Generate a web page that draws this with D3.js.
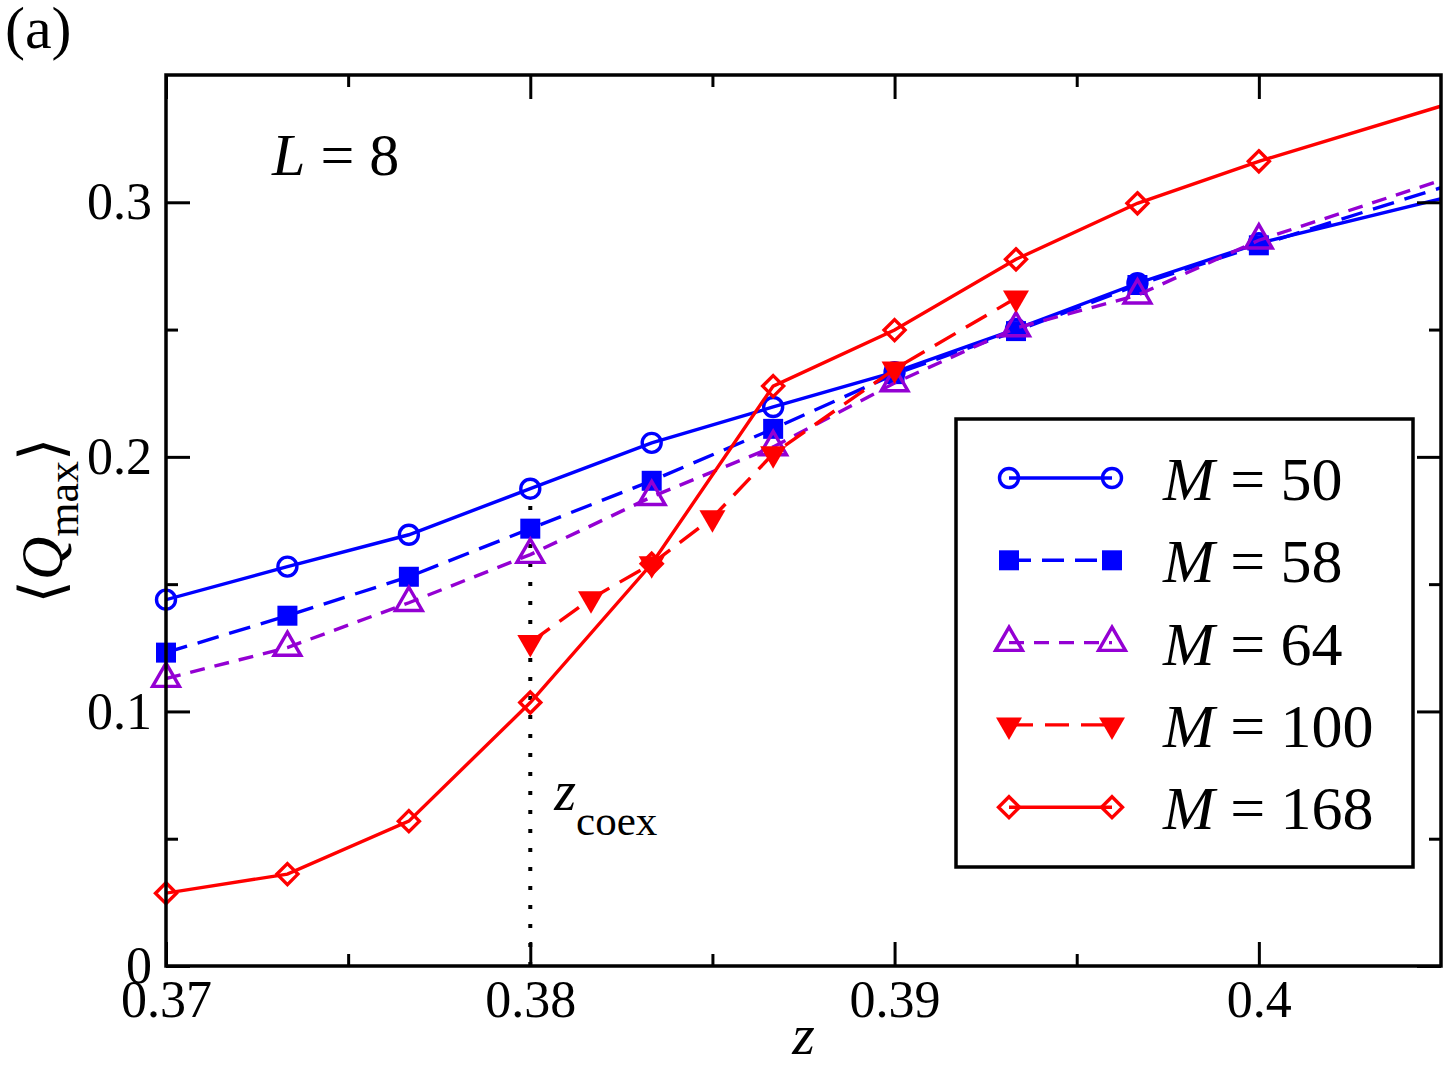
<!DOCTYPE html>
<html>
<head>
<meta charset="utf-8">
<script src="https://cdn.jsdelivr.net/npm/d3@7/dist/d3.min.js"></script>
<style>
  body { margin: 0; background: #fff; }
  svg text { font-family: "Liberation Serif", "Times New Roman", serif; fill: #000; }
</style>
</head>
<body>
<div id="chart"></div>
<script>
"use strict";

// ---- data ----
const zGrid = [0.37, 0.373333, 0.376667, 0.38, 0.383333, 0.386667, 0.39, 0.393333, 0.396667, 0.40, 0.406667];
const q50  = [0.1439, 0.1569, 0.1694, 0.1875, 0.2055, 0.2196, 0.2333, 0.2502, 0.2682, 0.2839, 0.3072];
const q58  = [0.1231, 0.1376, 0.1529, 0.1718, 0.1906, 0.2110, 0.2325, 0.2494, 0.2675, 0.2831, 0.3133];
const q64  = [0.1129, 0.1251, 0.1427, 0.1616, 0.1843, 0.2039, 0.2290, 0.2506, 0.2635, 0.2851, 0.3165];
const q168 = [0.0286, 0.0361, 0.0569, 0.1035, 0.1580, 0.2278, 0.2498, 0.2776, 0.2996, 0.3161, 0.3450];

const z100 = [0.38, 0.381667, 0.383333, 0.385, 0.386667, 0.39, 0.393333];
const q100 = [0.1271, 0.1443, 0.1580, 0.1761, 0.2012, 0.2345, 0.2624];

const seriesNames = ["50", "58", "64", "100", "168"];

const xMajor = [0.37, 0.38, 0.39, 0.40];
const xMajorLabels = ["0.37", "0.38", "0.39", "0.4"];
const xMinor = [0.375, 0.385, 0.395];
const yMajor = [0, 0.1, 0.2, 0.3];
const yMajorLabels = ["0", "0.1", "0.2", "0.3"];
const yMinor = [0.05, 0.15, 0.25];

const zCoex = 0.38;
const zCoexTop = 0.185;

// ---- layout ----
const width = 1446, height = 1065;
const margin = { top: 75, right: 5, bottom: 99, left: 166 };
const plotW = width - margin.left - margin.right,
      plotH = height - margin.top - margin.bottom;

const x = d3.scaleLinear().domain([0.37, 0.405]).range([0, plotW]);
const y = d3.scaleLinear().domain([0, 0.35]).range([plotH, 0]);

const svg = d3.select("#chart").append("svg")
    .attr("width", width)
    .attr("height", height);

const g = svg.append("g")
    .attr("transform", "translate(" + margin.left + "," + margin.top + ")");

g.append("clipPath").attr("id", "clip")
  .append("rect").attr("width", plotW).attr("height", plotH);

// marker shapes
const markers = {
    circle:  { path: "M-9.5,0a9.5,9.5 0 1,0 19,0a9.5,9.5 0 1,0 -19,0Z", fill: false },
    square:  { path: "M-10,-10H10V10H-10Z", fill: true },
    triUp:   { path: "M0,-15.5L13.4,7.75L-13.4,7.75Z", fill: false },
    triDown: { path: "M0,15L-13,-7.5L13,-7.5Z", fill: true },
    diamond: { path: "M0,-10.5L10.5,0L0,10.5L-10.5,0Z", fill: false }
};

const series = [
    { name: seriesNames[0], z: zGrid, q: q50,  color: "#0000ff", dash: null,    marker: "circle" },
    { name: seriesNames[1], z: zGrid, q: q58,  color: "#0000ff", dash: "22,11", marker: "square" },
    { name: seriesNames[2], z: zGrid, q: q64,  color: "#9400d3", dash: "15,10", marker: "triUp" },
    { name: seriesNames[3], z: z100,  q: q100, color: "#ff0000", dash: "24,12", marker: "triDown" },
    { name: seriesNames[4], z: zGrid, q: q168, color: "#ff0000", dash: null,    marker: "diamond" }
];

// dotted z_coex line
g.append("line")
    .attr("x1", x(zCoex)).attr("x2", x(zCoex))
    .attr("y1", y(0)).attr("y2", y(zCoexTop))
    .attr("stroke", "#000")
    .attr("stroke-width", 4)
    .attr("stroke-dasharray", "4,15");

const line = d3.line().x(d => x(d[0])).y(d => y(d[1]));

series.forEach(function (s) {
    const pts = s.z.map((z, i) => [z, s.q[i]]);
    g.append("path")
        .datum(pts)
        .attr("clip-path", "url(#clip)")
        .attr("fill", "none")
        .attr("stroke", s.color)
        .attr("stroke-width", 3.4)
        .attr("stroke-dasharray", s.dash)
        .attr("d", line);

    const m = markers[s.marker];
    g.selectAll(null)
        .data(pts.filter(d => d[0] <= x.domain()[1]))
        .enter().append("path")
        .attr("transform", d => "translate(" + x(d[0]) + "," + y(d[1]) + ")")
        .attr("d", m.path)
        .attr("fill", m.fill ? s.color : "none")
        .attr("stroke", m.fill ? "none" : s.color)
        .attr("stroke-width", 3.4);
});

// ---- axes (inward ticks on all four sides) ----
function styleAxis(sel) {
    sel.select(".domain").remove();
    sel.selectAll(".tick line").attr("stroke", "#000").attr("stroke-width", 3);
    sel.selectAll(".tick text").style("font-size", "52px").attr("fill", "#000");
}

g.append("g").attr("transform", "translate(0," + plotH + ")")
    .call(d3.axisBottom(x).tickValues(xMajor).tickSize(-24).tickPadding(14)
        .tickFormat((d, i) => xMajorLabels[i]))
    .call(styleAxis);
g.append("g").attr("transform", "translate(0," + plotH + ")")
    .call(d3.axisBottom(x).tickValues(xMinor).tickSize(-12).tickFormat(""))
    .call(styleAxis);
g.append("g")
    .call(d3.axisTop(x).tickValues(xMajor).tickSize(-24).tickFormat(""))
    .call(styleAxis);
g.append("g")
    .call(d3.axisTop(x).tickValues(xMinor).tickSize(-12).tickFormat(""))
    .call(styleAxis);

g.append("g")
    .call(d3.axisLeft(y).tickValues(yMajor).tickSize(-24).tickPadding(14)
        .tickFormat((d, i) => yMajorLabels[i]))
    .call(styleAxis);
g.append("g")
    .call(d3.axisLeft(y).tickValues(yMinor).tickSize(-12).tickFormat(""))
    .call(styleAxis);
g.append("g").attr("transform", "translate(" + plotW + ",0)")
    .call(d3.axisRight(y).tickValues(yMajor).tickSize(-24).tickFormat(""))
    .call(styleAxis);
g.append("g").attr("transform", "translate(" + plotW + ",0)")
    .call(d3.axisRight(y).tickValues(yMinor).tickSize(-12).tickFormat(""))
    .call(styleAxis);

// frame
g.append("rect")
    .attr("width", plotW).attr("height", plotH)
    .attr("fill", "none")
    .attr("stroke", "#000")
    .attr("stroke-width", 3.5);

// ---- texts ----
svg.append("text")
    .attr("x", 5).attr("y", 48)
    .style("font-size", "60px")
    .text("(a)");

const lText = g.append("text")
    .attr("x", 106).attr("y", 100)
    .style("font-size", "60px");
lText.append("tspan").style("font-style", "italic").text("L");
lText.append("tspan").text(" = 8");

const zc = g.append("text")
    .attr("x", x(zCoex) + 24).attr("y", 735)
    .style("font-size", "56px");
zc.append("tspan").style("font-style", "italic").text("z");
zc.append("tspan").attr("dy", 25).style("font-size", "43px").text("coex");

svg.append("text")
    .attr("x", margin.left + x(0.3875)).attr("y", 1054)
    .attr("text-anchor", "middle")
    .style("font-size", "58px")
    .style("font-style", "italic")
    .text("z");

const yl = svg.append("text")
    .attr("transform", "translate(62," + (margin.top + y(0.175)) + ") rotate(-90)")
    .attr("text-anchor", "middle")
    .style("font-size", "60px");
yl.append("tspan").style("font-family", "'DejaVu Serif', serif").style("font-weight", "200").text("\u27E8");
yl.append("tspan").style("font-style", "italic").text("Q");
yl.append("tspan").attr("dy", 16).style("font-size", "44px").text("max");
yl.append("tspan").attr("dy", -16).style("font-family", "'DejaVu Serif', serif").text("\u27E9");

// ---- legend ----
const legend = svg.append("g").attr("transform", "translate(956,419)");
legend.append("rect")
    .attr("width", 457).attr("height", 448)
    .attr("fill", "#fff")
    .attr("stroke", "#000")
    .attr("stroke-width", 3.5);

series.forEach(function (s, i) {
    const row = legend.append("g").attr("transform", "translate(0," + (59 + i * 82.3) + ")");
    row.append("line")
        .attr("x1", 53).attr("x2", 156)
        .attr("stroke", s.color)
        .attr("stroke-width", 3.4)
        .attr("stroke-dasharray", s.dash);
    const m = markers[s.marker];
    [53, 156].forEach(function (mx) {
        row.append("path")
            .attr("transform", "translate(" + mx + ",0)")
            .attr("d", m.path)
            .attr("fill", m.fill ? s.color : "none")
            .attr("stroke", m.fill ? "none" : s.color)
            .attr("stroke-width", 3.4);
    });
    const t = row.append("text")
        .attr("x", 207).attr("y", 22)
        .style("font-size", "62px");
    t.append("tspan").style("font-style", "italic").text("M");
    t.append("tspan").text(" = " + s.name);
});
</script>
</body>
</html>
